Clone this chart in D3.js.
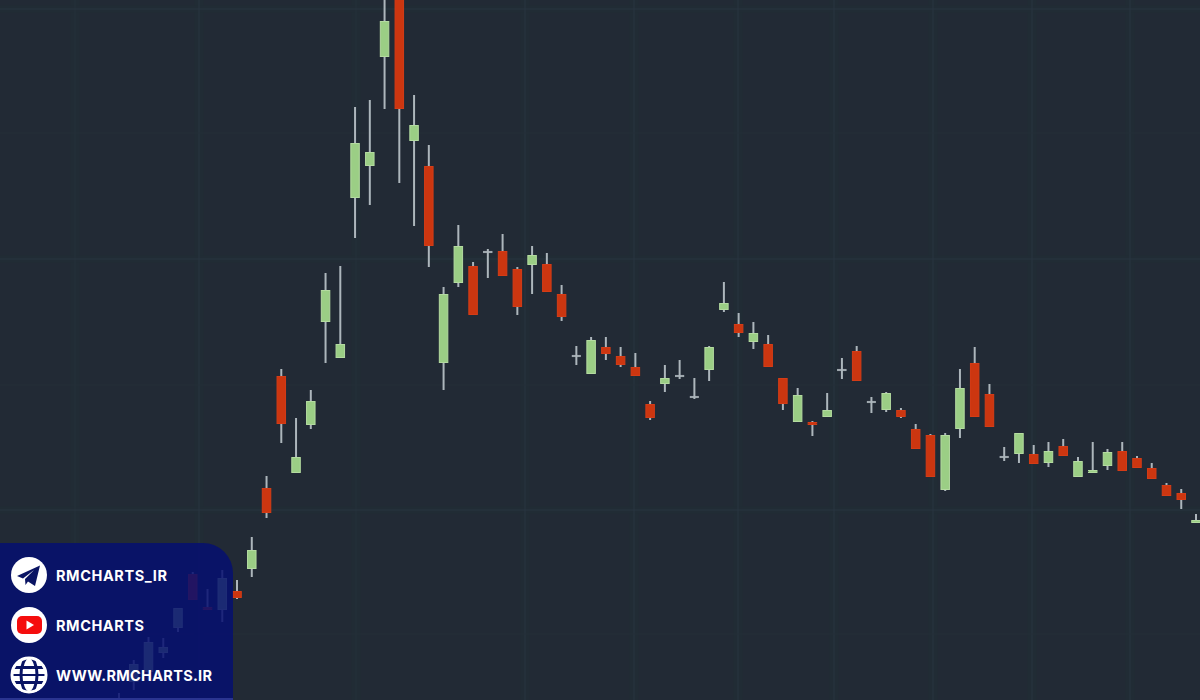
<!DOCTYPE html>
<html><head><meta charset="utf-8">
<script src="https://cdn.jsdelivr.net/npm/d3@7"></script>
<style>html,body{margin:0;padding:0;background:#222a35;overflow:hidden}svg{display:block}</style>
</head><body><svg id="c" width="1200" height="700"></svg>
<script>
const sessions = d3.range(-8, 66);
const opens = [-2,18,28,47,72,126,93,90, 109,131,212,324,227,275,378,342,502,534,643,720,559,534,337,417,434,448,449,431,435,436,406,344,326,353,344,333,296,316,324,303,330,390,376,358,356,322,278,278,283,330,349,298,290,290,271,265,210,271,337,306,243,246,246,237,254,223,227,234,249,242,232,215,207,177];
const closes = [2,36,58,53,92,100,90,122, 102,150,187,276,243,299,410,356,557,548,679,591,575,454,406,454,385,448,424,393,445,408,383,344,360,346,335,324,282,322,324,303,353,397,367,367,333,296,305,275,290,330,319,298,307,283,251,223,265,312,283,273,243,267,236,249,244,239,230,248,229,232,221,204,200,180];
const highs = [7,40,63,62,92,128,111,130, 120,163,224,331,282,310,427,434,593,600,710,730,605,555,413,475,438,451,466,433,454,447,415,354,363,363,353,347,299,335,340,322,354,418,387,378,365,322,312,279,307,342,354,303,308,292,276,266,267,331,353,316,253,267,255,258,261,243,258,251,258,244,237,217,211,186];
const lows = [-6,10,20,42,68,100,90,78, 101,123,182,257,227,271,337,342,462,495,591,517,474,433,310,413,385,422,424,385,406,408,379,335,326,340,333,324,280,308,321,301,319,388,363,351,333,290,278,264,283,321,319,287,288,282,251,223,209,262,283,273,239,237,236,233,244,223,227,230,229,232,221,204,191,177];
const gridXMajor = [199,525,634,738,834,933,1032,1130];
const gridXMinor = [75,356];
const gridYMajor = [9,259,510];
const gridYMinor = [133,385,634];
const socialLabels = ["RMCHARTS_IR","RMCHARTS","WWW.RMCHARTS.IR"];
const socialLengths = [111,88,156];

const W=1200,H=700;
const svg=d3.select("#c");
const bg="#222a35", upCol="#9bce85", upEdge="#b4dba0", dnCol="#cc3610", dnEdge="#d53c16", wickCol="#adb6bc", navy="#060f70";
const x=d3.scalePoint().domain(sessions).range([119,1196]);
const y=d3.scaleLinear().domain([0,700]).range([H,0]);

svg.append("rect").attr("width",W).attr("height",H).attr("fill",bg);
const g=svg.append("g");
g.selectAll("line.bx").data(gridXMajor.concat(gridXMinor)).join("line").attr("class","bx")
 .attr("x1",d=>d).attr("x2",d=>d).attr("y1",0).attr("y2",H).attr("stroke","#212c35").attr("stroke-width",9);
g.selectAll("line.by").data(gridYMajor).join("line").attr("class","by")
 .attr("x1",0).attr("x2",W).attr("y1",d=>d).attr("y2",d=>d).attr("stroke","#212c35").attr("stroke-width",7);
g.selectAll("line.vmaj").data(gridXMajor).join("line").attr("class","vmaj")
 .attr("x1",d=>d).attr("x2",d=>d).attr("y1",0).attr("y2",H).attr("stroke","#283540").attr("stroke-width",1);
g.selectAll("line.vmin").data(gridXMinor).join("line").attr("class","vmin")
 .attr("x1",d=>d).attr("x2",d=>d).attr("y1",0).attr("y2",H).attr("stroke","#25313b").attr("stroke-width",1);
g.selectAll("line.hmaj").data(gridYMajor).join("line").attr("class","hmaj")
 .attr("x1",0).attr("x2",W).attr("y1",d=>d).attr("y2",d=>d).attr("stroke","#283540").attr("stroke-width",1);
g.selectAll("line.hmin").data(gridYMinor).join("line").attr("class","hmin")
 .attr("x1",0).attr("x2",W).attr("y1",d=>d).attr("y2",d=>d).attr("stroke","#242e39").attr("stroke-width",1);

const candles=sessions.map((s,i)=>({s,o:opens[i],c:closes[i],h:highs[i],l:lows[i]}));
const cg=svg.append("g").selectAll("g").data(candles).join("g");
cg.append("line").attr("x1",d=>x(d.s)).attr("x2",d=>x(d.s)).attr("y1",d=>y(d.h)).attr("y2",d=>y(d.l))
 .attr("stroke",wickCol).attr("stroke-width",2);
cg.append("rect")
 .attr("x",d=>x(d.s)-4.25).attr("width",8.5)
 .attr("y",d=>d.o===d.c?y(d.o)-0.75:y(Math.max(d.o,d.c))+0.5)
 .attr("height",d=>d.o===d.c?1.5:Math.abs(y(d.o)-y(d.c))-1)
 .attr("fill",d=>d.o===d.c?wickCol:(d.c>d.o?upCol:dnCol))
 .attr("stroke",d=>d.o===d.c?wickCol:(d.c>d.o?upEdge:dnEdge))
 .attr("stroke-width",d=>d.o===d.c?0.6:1);

const panel=svg.append("g");
panel.append("path").attr("d","M0,543H203A30,30 0 0 1 233,573V700H0Z").attr("fill",navy).attr("fill-opacity",0.86);
panel.append("line").attr("x1",0).attr("x2",233).attr("y1",699).attr("y2",699).attr("stroke","#2a3490").attr("stroke-width",2);
const rows=[575,625,675];
panel.selectAll("circle").data(rows).join("circle").attr("cx",29).attr("cy",d=>d).attr("r",18).attr("fill","#fff");
panel.selectAll("text").data(socialLabels).join("text")
 .attr("x",56).attr("y",(d,i)=>rows[i]+6)
 .attr("font-family","Inter, 'Open Sans', sans-serif").attr("font-weight",700).attr("font-size",14.5)
 .attr("textLength",(d,i)=>socialLengths[i]).attr("lengthAdjust","spacing")
 .attr("fill","#fff").text(d=>d);
panel.append("path").attr("transform","translate(29,575)")
 .attr("d","M-12,1 L11,-9.5 L6,11 L-1,6.5 L-3.5,10 L-4,4 L5,-5 L-6,3.5 Z").attr("fill","#0a1463");
const yt=panel.append("g").attr("transform","translate(29.5,625)");
yt.append("rect").attr("x",-12.5).attr("y",-9).attr("width",25).attr("height",18).attr("rx",5).attr("fill","#f50d0d");
yt.append("path").attr("d","M-3,-4.5 L4.5,0 L-3,4.5Z").attr("fill","#fff");
const gl=panel.append("g").attr("transform","translate(29,675)").attr("fill","none").attr("stroke","#0a1463").attr("stroke-width",3);
gl.append("ellipse").attr("rx",8).attr("ry",18);
gl.append("line").attr("x1",-18).attr("x2",18).attr("y1",0).attr("y2",0).attr("stroke-width",2);
gl.append("line").attr("x1",0).attr("x2",0).attr("y1",-18).attr("y2",18).attr("stroke-width",0);
gl.append("path").attr("d","M-15,-7.5H15M-15,7.5H15");
gl.append("circle").attr("r",17).attr("stroke","#fff").attr("stroke-width",3);
</script></body></html>
